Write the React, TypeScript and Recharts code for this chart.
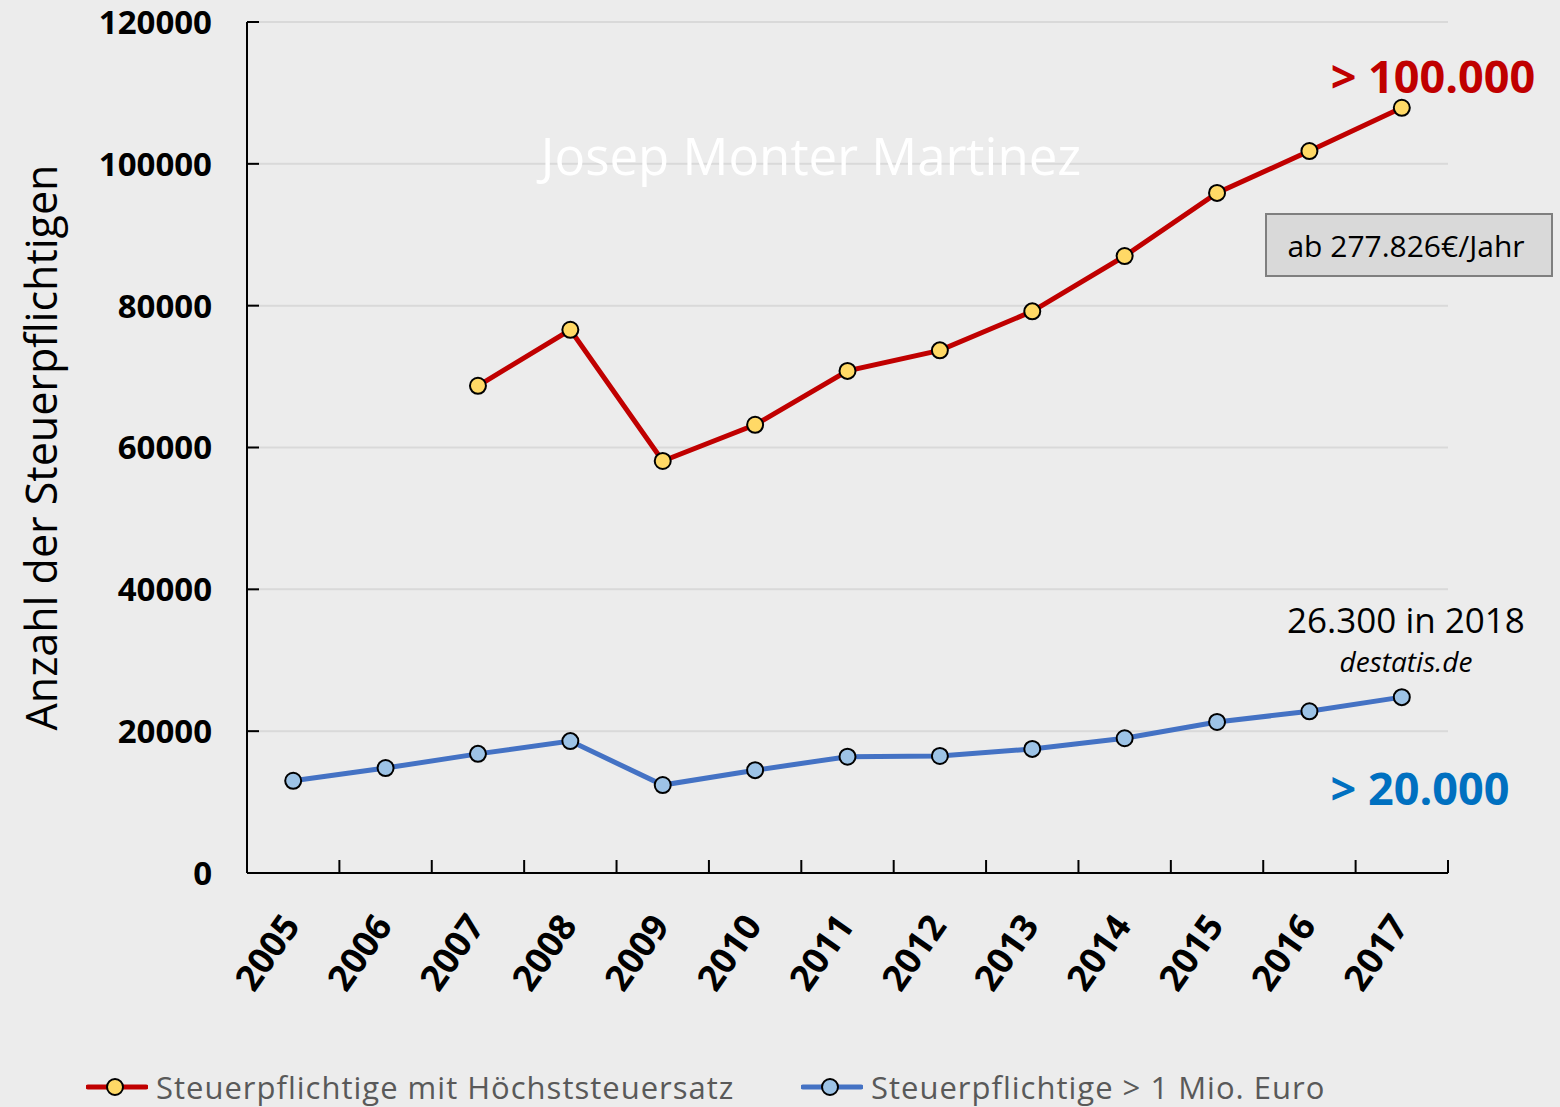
import React from "react";
import { LineChart, Line, XAxis, YAxis, CartesianGrid, Legend } from "recharts";

const years = ["2005","2006","2007","2008","2009","2010","2011","2012","2013","2014","2015","2016","2017"];
const hoechststeuersatz: (number | null)[] = [null, null, 68700, 76600, 58100, 63200, 70800, 73700, 79200, 87000, 95900, 101800, 107900];
const millionaere: number[] = [13000, 14800, 16800, 18600, 12400, 14500, 16400, 16500, 17500, 19000, 21300, 22800, 24800];
const yTicks = [0, 20000, 40000, 60000, 80000, 100000, 120000];

const SERIES_RED = "Steuerpflichtige mit Höchststeuersatz";
const SERIES_BLUE = "Steuerpflichtige > 1 Mio. Euro";

const data = years.map((y, i) => ({ year: y, red: hoechststeuersatz[i], blue: millionaere[i] }));

const W = 1560;
const H = 1107;
const M_TOP = 22;
const M_RIGHT = 112;
const Y_W = 247;
const X_H = 194;
const LEG_H = 40;
const PLOT_W = W - Y_W - M_RIGHT;
const BAND = PLOT_W / years.length;
const FONT = "'Open Sans', 'DejaVu Sans', sans-serif";

const YTick = (props: any) => {
  const { x, y, payload } = props;
  return (
    <g>
      <line x1={x} x2={x + 12} y1={y} y2={y} stroke="#000" strokeWidth={2} />
      <text x={x - 35} y={y} dy="0.36em" textAnchor="end" fontFamily={FONT} fontWeight={700} fontSize={33} fill="#000">
        {payload.value}
      </text>
    </g>
  );
};

const XTick = (props: any) => {
  const { x, y, payload, index } = props;
  const last = index === years.length - 1;
  const first = index === 0;
  const ax = x + 8;
  const ay = y + 53;
  return (
    <g>
      {!first && <line x1={x - BAND / 2} x2={x - BAND / 2} y1={y} y2={y - 13} stroke="#000" strokeWidth={2} />}
      {last && <line x1={x + BAND / 2} x2={x + BAND / 2} y1={y} y2={y - 13} stroke="#000" strokeWidth={2} />}
      <text
        x={ax}
        y={ay}
        textAnchor="end"
        transform={`rotate(-55, ${ax}, ${ay})`}
        fontFamily={FONT}
        fontWeight={700}
        fontSize={36}
        fill="#000"
      >
        {payload.value}
      </text>
    </g>
  );
};

const LegendContent = () => {
  const item = (left: number, color: string, fill: string, label: string) => (
    <div style={{ position: "absolute", left, top: 0, height: LEG_H, display: "flex", alignItems: "center" }}>
      <svg width={62} height={24} style={{ display: "block" }}>
        <line x1={2} x2={60} y1={12} y2={12} stroke={color} strokeWidth={5} strokeLinecap="round" />
        <circle cx={29} cy={12} r={8} fill={fill} stroke="#000" strokeWidth={2} />
      </svg>
      <span style={{ marginLeft: 8, fontFamily: FONT, fontSize: 31, letterSpacing: 1, color: "#595959", whiteSpace: "nowrap", lineHeight: "40px" }}>
        {label}
      </span>
    </div>
  );
  return (
    <div style={{ position: "relative", width: W, height: LEG_H }}>
      {item(86, "#c00000", "#ffd966", SERIES_RED)}
      {item(801, "#4472c4", "#9dc3e6", SERIES_BLUE)}
    </div>
  );
};

export default function App() {
  return (
    <div style={{ position: "absolute", left: 0, top: 0, width: W, height: H, background: "#ececec" }}>
      <LineChart
        width={W}
        height={H}
        data={data}
        margin={{ top: M_TOP, right: M_RIGHT, bottom: 0, left: 0 }}
        style={{ background: "#ececec" }}
      >
        <CartesianGrid vertical={false} stroke="#d9d9d9" strokeWidth={2} />
        <XAxis
          dataKey="year"
          height={X_H}
          padding={{ left: BAND / 2, right: BAND / 2 }}
          axisLine={{ stroke: "#000", strokeWidth: 2 }}
          tickLine={false}
          tickSize={0}
          tickMargin={0}
          interval={0}
          tick={<XTick />}
        />
        <YAxis
          width={Y_W}
          domain={[0, 120000]}
          ticks={yTicks}
          axisLine={{ stroke: "#000", strokeWidth: 2 }}
          tickLine={false}
          tickSize={0}
          tickMargin={0}
          interval={0}
          tick={<YTick />}
          label={{
            value: "Anzahl der Steuerpflichtigen",
            angle: -90,
            position: "insideLeft",
            offset: 0,
            dx: 42,
            style: { fontFamily: FONT, fontSize: 43, fill: "#000", textAnchor: "middle" },
          }}
        />
        <Legend verticalAlign="bottom" height={LEG_H} content={<LegendContent />} />
        <Line
          dataKey="red"
          name={SERIES_RED}
          stroke="#c00000"
          strokeWidth={5}
          dot={{ r: 8, fill: "#ffd966", stroke: "#000", strokeWidth: 2 }}
          activeDot={false}
          isAnimationActive={false}
        />
        <Line
          dataKey="blue"
          name={SERIES_BLUE}
          stroke="#4472c4"
          strokeWidth={5}
          dot={{ r: 8, fill: "#9dc3e6", stroke: "#000", strokeWidth: 2 }}
          activeDot={false}
          isAnimationActive={false}
        />
      </LineChart>
      <svg width={W} height={H} style={{ position: "absolute", left: 0, top: 0, pointerEvents: "none" }}>
        <text x={811} y={175} textAnchor="middle" fontFamily={FONT} fontSize={51} fill="#ffffff">Josep Monter Martinez</text>
        <text x={1433} y={93} textAnchor="middle" fontFamily={FONT} fontWeight={700} fontSize={45} fill="#c00000">&gt; 100.000</text>
        <rect x={1266} y={214} width={286} height={62} fill="#d9d9d9" stroke="#7f7f7f" strokeWidth={2} />
        <text x={1406} y={257} textAnchor="middle" fontFamily={FONT} fontSize={30} fill="#000">ab 277.826€/Jahr</text>
        <text x={1406} y={633} textAnchor="middle" fontFamily={FONT} fontSize={35} fill="#000">26.300 in 2018</text>
        <text x={1406} y={672} textAnchor="middle" fontFamily={FONT} fontStyle="italic" fontSize={28} fill="#000">destatis.de</text>
        <text x={1420} y={805} textAnchor="middle" fontFamily={FONT} fontWeight={700} fontSize={45} fill="#0070c0">&gt; 20.000</text>
      </svg>
    </div>
  );
}
